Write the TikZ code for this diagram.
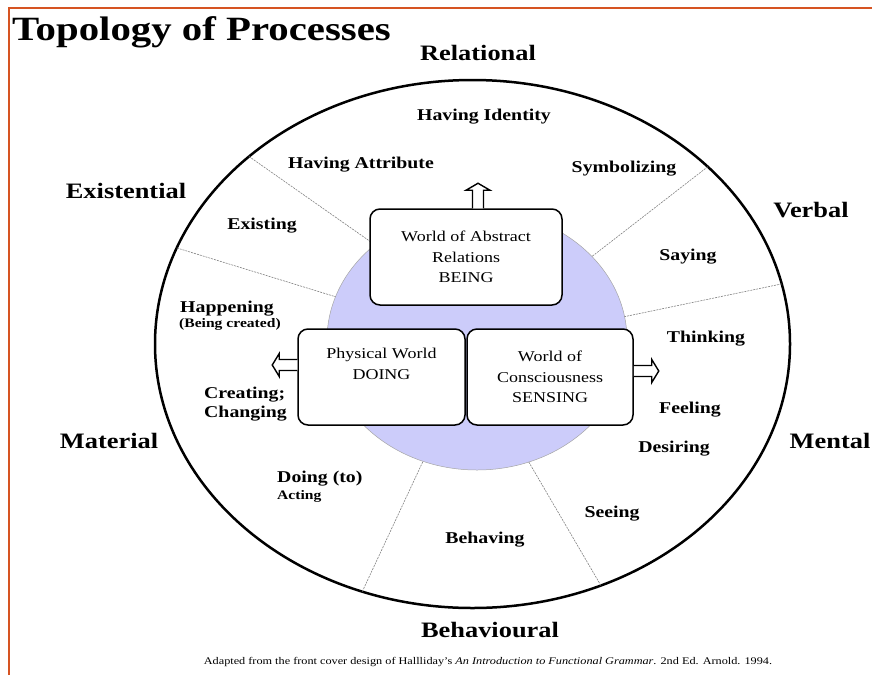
\documentclass[tikz,border=0pt]{standalone}
\usepackage{fontspec}
\setmainfont{Liberation Serif}[FakeStretch=1.2]
\usetikzlibrary{shapes.geometric}

\definecolor{frameorange}{RGB}{214,84,34}
\definecolor{corelilac}{RGB}{204,204,250}

\tikzset{
  region/.style={font=\fontsize{22}{26}\selectfont\bfseries, anchor=base, inner sep=0pt},
  process/.style={font=\fontsize{16.5}{19}\selectfont\bfseries, anchor=base, inner sep=0pt},
  processleft/.style={process, anchor=base west},
  subprocess/.style={font=\fontsize{13}{15}\selectfont\bfseries, anchor=base west, inner sep=0pt},
  worldbox/.style={draw, line width=1.5pt, fill=white, rounded corners=10pt, align=center,
    font=\fontsize{15}{20.5}\selectfont, minimum height=96pt},
  divider/.style={gray, line width=0.6pt, dash pattern=on 2pt off 1pt},
  hollowarrow/.style={draw, line width=1.4pt, fill=white, line join=miter}
}

\begin{document}
\begin{tikzpicture}[x=1pt,y=-1pt]
 \useasboundingbox (0,0) rectangle (872,675);

 % frame and title
 \draw[frameorange, line width=2pt] (9,675) -- (9,8) -- (872,8);
 \node[font=\fontsize{34}{37}\selectfont\bfseries, anchor=base west, inner sep=0pt] (title) at (12,40) {Topology of Processes};

 % wheel and core
 \node[ellipse, draw, line width=2.5pt, minimum width=635pt, minimum height=528pt, inner sep=0pt, outer sep=0pt] (wheel) at (472.5,344) {};
 \node[ellipse, fill=corelilac, draw=gray!70, line width=0.5pt, minimum width=300pt, minimum height=260pt, inner sep=0pt, outer sep=0pt] (core) at (477,340) {};

 \draw[divider] (wheel.140) -- (core.137);
 \draw[divider] (wheel.162) -- (core.163);
 \draw[divider] (wheel.37) -- (core.36);
 \draw[divider] (wheel.11) -- (core.9);
 \draw[divider] (wheel.246) -- (core.246);
 \draw[divider] (wheel.298) -- (core.293);

 % the three worlds
 \node[worldbox, minimum width=192pt] (being) at (466,257) {World of Abstract\\Relations\\BEING};
 \node[worldbox, minimum width=167pt] (doing) at (381.5,377) {Physical World\\DOING\\\strut};
 \node[worldbox, minimum width=166pt] (sensing) at (550,377) {World of\\Consciousness\\SENSING};

 \coordinate (upfoot) at ([xshift=12pt]being.north);
 \coordinate (leftfoot) at ([yshift=12pt]doing.west);
 \coordinate (rightfoot) at ([yshift=6pt]sensing.east);
 \draw[hollowarrow] (upfoot) ++(-5.5,0) -- ++(0,-18) -- ++(-6.5,0) -- ++(12,-7) -- ++(12,7) -- ++(-6.5,0) -- ++(0,18);
 \draw[hollowarrow] (leftfoot) ++(0,-5.5) -- ++(-18,0) -- ++(0,-6) -- ++(-7,11.5) -- ++(7,11.5) -- ++(0,-6) -- ++(18,0);
 \draw[hollowarrow] (rightfoot) ++(0,-5.5) -- ++(18,0) -- ++(0,-6) -- ++(7,11.5) -- ++(-7,11.5) -- ++(0,-6) -- ++(-18,0);

 % process types
 \node[region] (relational) at (478,60) {Relational};
 \node[region] (existential) at (126,198) {Existential};
 \node[region] (verbal) at (811,217) {Verbal};
 \node[region] (material) at (109,448) {Material};
 \node[region] (mental) at (830,448) {Mental};
 \node[region] (behavioural) at (490,637) {Behavioural};

 % processes
 \node[process] (identity) at (484,120) {Having Identity};
 \node[process] (attribute) at (361,168) {Having Attribute};
 \node[process] (symbol) at (624,172) {Symbolizing};
 \node[process] (existing) at (262,229) {Existing};
 \node[process] (saying) at (688,260) {Saying};
 \node[processleft] (happening) at (180,312) {Happening};
 \node[subprocess] (created) at (179,327) {(Being created)};
 \node[process] (thinking) at (706,342) {Thinking};
 \node[processleft] (creating) at (204,398) {Creating;};
 \node[processleft] (changing) at (204,417) {Changing};
 \node[process] (feeling) at (690,413) {Feeling};
 \node[process] (desiring) at (674,452) {Desiring};
 \node[processleft] (doingto) at (277,482) {Doing (to)};
 \node[subprocess] (acting) at (277,499) {Acting};
 \node[process] (seeing) at (612,517) {Seeing};
 \node[process] (behaving) at (485,543) {Behaving};

 % source
 \node[font=\fontsize{10.2}{12}\selectfont, anchor=base, inner sep=0pt] (source) at (488,664) {Adapted from the front cover design of Hallliday's \textit{An Introduction to Functional Grammar}. 2nd Ed. Arnold. 1994.};
\end{tikzpicture}
\end{document}
